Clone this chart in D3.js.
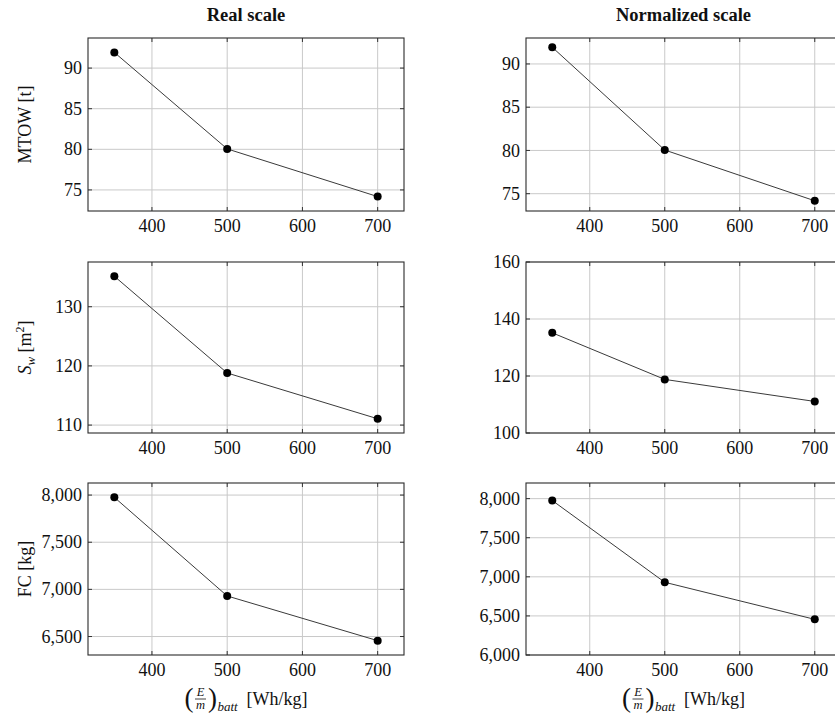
<!DOCTYPE html>
<html><head><meta charset="utf-8">
<script src="https://cdn.jsdelivr.net/npm/d3@7"></script>
<style>
html,body{margin:0;padding:0;background:#fff;overflow:hidden;}
svg{display:block;}
svg text{font-family:"Liberation Serif","DejaVu Serif",serif;fill:#111;}
</style></head>
<body>
<script>
// ---- data ----
const xValues = [350, 500, 700];
const mtowValues = [91.93, 80.05, 74.18];
const swValues = [135.15, 118.8, 111.07];
const fcValues = [7976, 6930, 6456];

const xTicks = [400, 500, 600, 700];
const mtowTicksReal = [75, 80, 85, 90];
const swTicksReal = [110, 120, 130];
const fcTicksReal = [6500, 7000, 7500, 8000];
const mtowTicksNorm = [75, 80, 85, 90];
const swTicksNorm = [100, 120, 140, 160];
const fcTicksNorm = [6000, 6500, 7000, 7500, 8000];
const mtowDomainNorm = [73, 93];
const swDomainNorm = [100, 160];
const fcDomainNorm = [6000, 8200];

const columnTitles = ["Real scale", "Normalized scale"];

// ---- layout ----
const W = 835, H = 717;
const svg = d3.select("body").append("svg").attr("width", W).attr("height", H)
  .style("font-family", "'Liberation Serif', 'DejaVu Serif', serif");

const cols = [{x0: 88, x1: 404}, {x0: 526, x1: 841}];
const rows = [{y0: 38, y1: 211}, {y0: 262, y1: 433}, {y0: 483, y1: 655}];
const FS = 18;
const FAM = "'Liberation Serif', 'DejaVu Serif', serif";

function enlarge(vals) {
  const [a, b] = d3.extent(vals); const p = (b - a) * 0.1; return [a - p, b + p];
}
const xDomain = enlarge(xValues);
const fmt = d3.format(",");

function panel(col, row, values, yDomain, yTicks) {
  const c = cols[col], r = rows[row];
  const x = d3.scaleLinear().domain(xDomain).range([c.x0, c.x1]);
  const y = d3.scaleLinear().domain(yDomain).range([r.y1, r.y0]);
  const g = svg.append("g");
  g.selectAll(".gx").data(xTicks).join("line")
    .attr("x1", d => x(d)).attr("x2", d => x(d)).attr("y1", r.y0).attr("y2", r.y1)
    .attr("stroke", "#c9c9c9").attr("stroke-width", 1);
  g.selectAll(".gy").data(yTicks).join("line")
    .attr("x1", c.x0).attr("x2", c.x1).attr("y1", d => y(d)).attr("y2", d => y(d))
    .attr("stroke", "#c9c9c9").attr("stroke-width", 1);
  const tl = 4;
  xTicks.forEach(t => {
    g.append("line").attr("x1", x(t)).attr("x2", x(t)).attr("y1", r.y1).attr("y2", r.y1 - tl).attr("stroke", "#333");
    g.append("line").attr("x1", x(t)).attr("x2", x(t)).attr("y1", r.y0).attr("y2", r.y0 + tl).attr("stroke", "#333");
  });
  yTicks.forEach(t => {
    g.append("line").attr("x1", c.x0).attr("x2", c.x0 + tl).attr("y1", y(t)).attr("y2", y(t)).attr("stroke", "#333");
    g.append("line").attr("x1", c.x1).attr("x2", c.x1 - tl).attr("y1", y(t)).attr("y2", y(t)).attr("stroke", "#333");
  });
  g.append("rect").attr("x", c.x0).attr("y", r.y0).attr("width", c.x1 - c.x0).attr("height", r.y1 - r.y0)
    .attr("fill", "none").attr("stroke", "#2a2a2a").attr("stroke-width", 1.1);
  g.selectAll(".tx").data(xTicks).join("text")
    .attr("x", d => x(d)).attr("y", r.y1 + 21).attr("text-anchor", "middle")
    .style("font-family", FAM).style("font-size", FS + "px").text(d => d);
  g.selectAll(".ty").data(yTicks).join("text")
    .attr("x", c.x0 - 6).attr("y", d => y(d)).attr("dy", "0.34em").attr("text-anchor", "end")
    .style("font-family", FAM).style("font-size", FS + "px").text(d => fmt(d));
  const pts = xValues.map((v, i) => [v, values[i]]);
  g.append("path").datum(pts)
    .attr("d", d3.line().x(d => x(d[0])).y(d => y(d[1])))
    .attr("fill", "none").attr("stroke", "#3a3a3a").attr("stroke-width", 1);
  g.selectAll(".pt").data(pts).join("circle")
    .attr("cx", d => x(d[0])).attr("cy", d => y(d[1])).attr("r", 4).attr("fill", "#000");
}

panel(0, 0, mtowValues, enlarge(mtowValues), mtowTicksReal);
panel(0, 1, swValues, enlarge(swValues), swTicksReal);
panel(0, 2, fcValues, enlarge(fcValues), fcTicksReal);
panel(1, 0, mtowValues, mtowDomainNorm, mtowTicksNorm);
panel(1, 1, swValues, swDomainNorm, swTicksNorm);
panel(1, 2, fcValues, fcDomainNorm, fcTicksNorm);

columnTitles.forEach((t, i) => {
  svg.append("text").attr("x", (cols[i].x0 + cols[i].x1) / 2).attr("y", 21)
    .attr("text-anchor", "middle").style("font-family", FAM)
    .style("font-size", "18.5px").style("font-weight", "bold").text(t);
});

function ylab(row, build) {
  const r = rows[row];
  const t = svg.append("text").attr("transform", `translate(31,${(r.y0 + r.y1) / 2}) rotate(-90)`)
    .attr("text-anchor", "middle").style("font-family", FAM).style("font-size", FS + "px");
  build(t);
}
ylab(0, t => t.text("MTOW [t]"));
ylab(1, t => {
  t.append("tspan").style("font-style", "italic").text("S");
  t.append("tspan").style("font-style", "italic").style("font-size", "13px").attr("dy", 4).text("w");
  t.append("tspan").attr("dy", -4).text("\u00a0[m");
  t.append("tspan").style("font-size", "12px").attr("dy", -7).text("2");
  t.append("tspan").attr("dy", 7).text("]");
});
ylab(2, t => t.text("FC [kg]"));

cols.forEach(c => {
  const g = svg.append("g").style("font-family", FAM);
  g.append("text").attr("x", 0).attr("y", 8).style("font-size", "27px").text("(");
  g.append("text").attr("x", 16).attr("y", -3).attr("text-anchor", "middle")
    .style("font-size", "12.5px").style("font-style", "italic").text("E");
  g.append("line").attr("x1", 10.5).attr("x2", 21.5).attr("y1", 0).attr("y2", 0).attr("stroke", "#111").attr("stroke-width", 0.8);
  g.append("text").attr("x", 16).attr("y", 10).attr("text-anchor", "middle")
    .style("font-size", "12.5px").style("font-style", "italic").text("m");
  g.append("text").attr("x", 23.5).attr("y", 8).style("font-size", "27px").text(")");
  g.append("text").attr("x", 33).attr("y", 12).style("font-size", "13px").style("font-style", "italic").text("batt");
  g.append("text").attr("x", 62).attr("y", 6).style("font-size", FS + "px").text("[Wh/kg]");
  const bb = g.node().getBBox();
  const cx = (c.x0 + c.x1) / 2;
  g.attr("transform", `translate(${cx - bb.x - bb.width / 2},699)`);
});
</script>
</body></html>
